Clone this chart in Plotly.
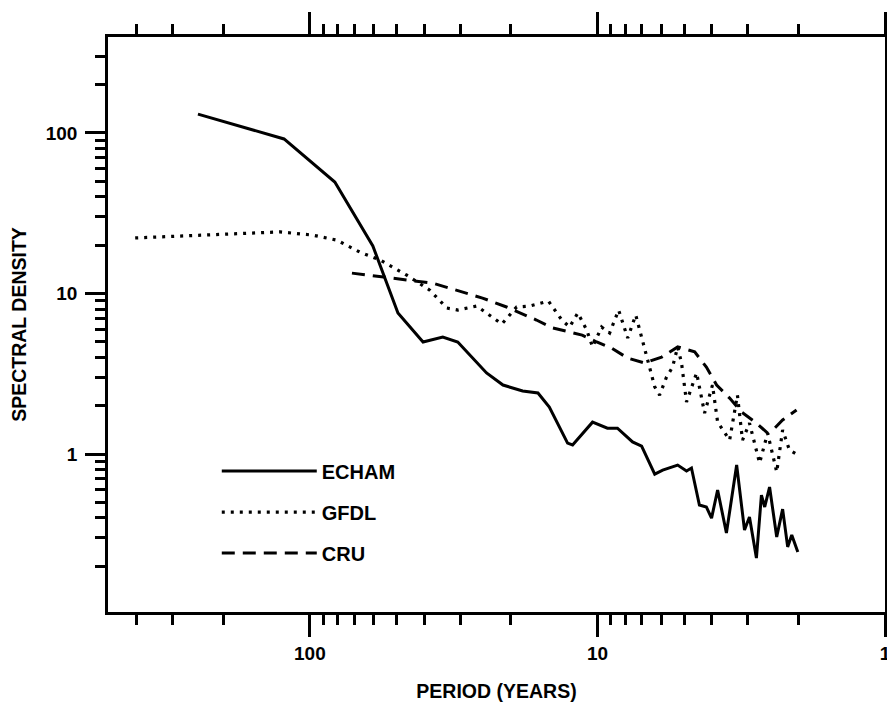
import plotly.graph_objects as go

# ---- data (period in years, spectral density) ----
echam_period = [245, 123, 81.9, 60.4, 49.4, 40.4, 34.5, 30.6, 24.3, 21.3, 18.2, 16.1, 14.7,
                13.5, 12.7, 12.2, 10.4, 9.23, 8.52, 7.55, 7.02, 6.32, 5.93, 5.26, 4.90, 4.71,
                4.42, 4.18, 4.01, 3.82, 3.56, 3.28, 3.08, 2.96, 2.80, 2.69, 2.62, 2.52, 2.38,
                2.27, 2.18, 2.11, 2.01]
echam_value = [131, 91.8, 49.5, 19.8, 7.56, 4.99, 5.36, 4.99, 3.20, 2.69, 2.47, 2.40, 1.96,
               1.45, 1.17, 1.14, 1.58, 1.45, 1.45, 1.19, 1.12, 0.750, 0.794, 0.854, 0.784, 0.818,
               0.481, 0.468, 0.399, 0.597, 0.322, 0.854, 0.336, 0.405, 0.225, 0.555, 0.468, 0.623, 0.304,
               0.454, 0.264, 0.313, 0.245]

gfdl_period = [405, 283, 190, 127, 97.6, 80.6, 67.0, 57.1, 46.0, 38.3, 33.4, 30.6, 26.3, 23.7,
               21.5, 19.1, 17.2, 14.8, 13.3, 12.5, 11.7, 10.9, 10.4, 9.67, 9.07, 8.44, 7.85, 7.36,
               6.86, 6.59, 6.32, 6.08, 5.75, 5.48, 5.26, 5.10, 4.90, 4.52, 4.24, 3.98, 3.82, 3.47,
               3.26, 3.13, 2.96, 2.73, 2.56, 2.38, 2.27, 2.15, 2.01]
gfdl_value = [22.2, 22.8, 23.5, 24.2, 23.1, 21.5, 18.1, 16.2, 13.0, 10.5, 8.12, 7.89, 8.36, 7.35,
              6.46, 8.24, 8.36, 8.97, 6.84, 6.18, 7.57, 5.93, 4.65, 6.18, 5.68, 7.89, 5.28, 7.35,
              4.45, 3.48, 2.62, 2.33, 3.02, 3.48, 4.65, 3.69, 2.11, 3.20, 1.80, 2.69, 1.58, 1.22,
              2.33, 1.22, 1.56, 0.879, 1.35, 0.773, 1.41, 1.06, 0.986]

cru_period = [71.4, 55.7, 37.4, 25.1, 20.7, 16.3, 14.3, 11.3, 10.06, 8.93, 7.85, 6.86, 5.98,
              5.26, 4.59, 4.18, 3.85, 3.47, 3.16, 2.80, 2.56, 2.42, 2.27, 2.03]
cru_value = [13.4, 12.7, 11.6, 9.37, 8.24, 6.84, 6.10, 5.51, 4.99, 4.57, 3.96, 3.69, 4.02,
             4.65, 4.33, 3.48, 2.69, 2.23, 1.83, 1.56, 1.35, 1.45, 1.63, 1.88]

x_major = [100, 10, 1]
x_major_text = ["100", "10", "1"]
x_minor = [400, 300, 200, 90, 80, 70, 60, 50, 40, 30, 20, 9, 8, 7, 6, 5, 4, 3, 2]
y_major = [1, 10, 100]
y_major_text = ["1", "10", "100"]
y_minor = [0.2, 0.3, 0.4, 0.5, 0.6, 0.7, 0.8, 0.9, 2, 3, 4, 5, 6, 7, 8, 9,
           20, 30, 40, 50, 60, 70, 80, 90, 200, 300]

FONT = "Liberation Sans, Arial, Helvetica, sans-serif"

fig = go.Figure()
fig.add_trace(go.Scatter(x=echam_period, y=echam_value, mode="lines", name="ECHAM",
                         legendgroup="a",
                         line=dict(color="black", width=3)))
fig.add_trace(go.Scatter(x=gfdl_period, y=gfdl_value, mode="lines", name="GFDL",
                         legendgroup="b",
                         line=dict(color="black", width=3.2, dash="3px,6px")))
fig.add_trace(go.Scatter(x=cru_period, y=cru_value, mode="lines", name="CRU",
                         legendgroup="c",
                         line=dict(color="black", width=3, dash="13px,8px")))

axis_common = dict(
    showline=True, linecolor="black", linewidth=2.5,
    mirror="ticks", ticks="outside", tickcolor="black", tickwidth=2.5,
    showgrid=False, zeroline=False, automargin=False,
    tickfont=dict(family=FONT, size=19, color="black", weight="bold"),
)

fig.update_xaxes(type="log", range=[2.702, 0.0],
                 tickmode="array", tickvals=x_major, ticktext=x_major_text, ticklen=22,
                 minor=dict(tickmode="array", tickvals=x_minor, ticks="outside", ticklen=10,
                            tickcolor="black", tickwidth=2.5, showgrid=False),
                 title=dict(text="PERIOD (YEARS)", standoff=25,
                            font=dict(family=FONT, size=19.5, color="black", weight="bold")),
                 **axis_common)
fig.update_yaxes(type="log", range=[-0.984, 2.598],
                 tickmode="array", tickvals=y_major, ticktext=y_major_text, ticklen=20,
                 ticklabelstandoff=4,
                 minor=dict(tickmode="array", tickvals=y_minor, ticks="outside", ticklen=10,
                            tickcolor="black", tickwidth=2.5, showgrid=False),
                 title=dict(text="SPECTRAL DENSITY", standoff=15,
                            font=dict(family=FONT, size=19.5, color="black", weight="bold")),
                 **axis_common)

# page body adds an 8px offset; size the figure so the plot lands where the reference has it
fig.update_layout(
    width=887, height=694,
    margin=dict(l=100, r=10, t=29, b=90),
    paper_bgcolor="white", plot_bgcolor="white",
    font=dict(family=FONT, size=18, color="black"),
    showlegend=True,
    legend=dict(x=0.140, y=0.279, xanchor="left", yanchor="top",
                bgcolor="rgba(0,0,0,0)", borderwidth=0,
                tracegroupgap=12, itemwidth=95,
                font=dict(family=FONT, size=20, color="black", weight="bold")),
)

fig.write_html("out.html")
